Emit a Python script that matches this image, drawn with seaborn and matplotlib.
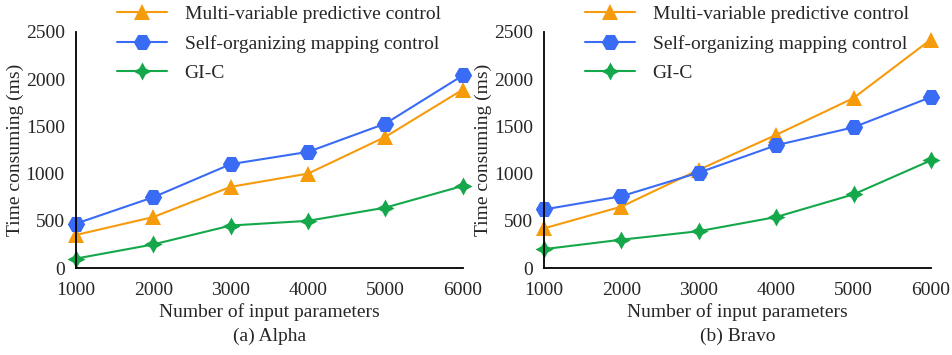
import numpy as np
import pandas as pd
import matplotlib
matplotlib.use("Agg")
import matplotlib.pyplot as plt
import seaborn as sns

# Number of input parameters
params = [1000, 2000, 3000, 4000, 5000, 6000]

# Time consuming (ms), dataset Alpha
alpha_mpc = [350, 540, 860, 1000, 1390, 1890]
alpha_som = [470, 750, 1100, 1230, 1530, 2040]
alpha_gic = [100, 250, 450, 500, 640, 870]

# Time consuming (ms), dataset Bravo
bravo_mpc = [420, 650, 1040, 1410, 1800, 2420]
bravo_som = [620, 760, 1010, 1300, 1490, 1810]
bravo_gic = [200, 300, 390, 540, 780, 1140]

methods = ["Multi-variable predictive control",
           "Self-organizing mapping control",
           "GI-C"]
panels = ["(a) Alpha", "(b) Bravo"]
y_ticks = [0, 500, 1000, 1500, 2000, 2500]

colors = {methods[0]: "#F59B0C", methods[1]: "#3A6BF5", methods[2]: "#14A84B"}
markers = {methods[0]: "^", methods[1]: "H", methods[2]: (4, 1, 0)}
sizes = {methods[0]: 12, methods[1]: 12.5, methods[2]: 13}


def long_frame(series):
    rows = []
    for name, vals in zip(methods, series):
        for x, v in zip(params, vals):
            rows.append({"Number of input parameters": x, "Time": v, "Method": name})
    return pd.DataFrame(rows)


data = [long_frame([alpha_mpc, alpha_som, alpha_gic]),
        long_frame([bravo_mpc, bravo_som, bravo_gic])]

sns.set_style("white")
plt.rcParams["font.family"] = ["Liberation Serif", "DejaVu Serif"]
plt.rcParams["mathtext.fontset"] = "stix"

fig = plt.figure(figsize=(9.53, 3.55), dpi=100)
axes = [fig.add_axes([0.0797, 0.245, 0.406, 0.665]),
        fig.add_axes([0.5708, 0.245, 0.406, 0.665])]

for ax, df, title in zip(axes, data, panels):
    for name in methods:
        sub = df[df["Method"] == name]
        sns.lineplot(data=sub, x="Number of input parameters", y="Time", ax=ax,
                     color=colors[name], marker=markers[name],
                     markersize=sizes[name], markeredgewidth=0,
                     linewidth=1.5, label=name, clip_on=False)
    ax.set_xlim(1000, 6000)
    ax.set_ylim(0, 2500)
    ax.set_xticks(params)
    ax.set_yticks(y_ticks)
    ax.tick_params(axis="x", direction="in", length=4, width=1.2,
                   labelsize=14, pad=10, color="black")
    ax.tick_params(axis="y", length=0, labelsize=14, pad=8)
    for s in ["top", "right"]:
        ax.spines[s].set_visible(False)
    for s in ["left", "bottom"]:
        ax.spines[s].set_color("black")
        ax.spines[s].set_linewidth(1.3)
    ax.set_ylabel("Time consuming (ms)", fontsize=14, labelpad=1)
    ax.set_xlabel("Number of input parameters\n" + title, fontsize=14,
                  labelpad=3, linespacing=1.5)
    ax.legend(loc="upper left", bbox_to_anchor=(0.08, 1.155), frameon=False,
              fontsize=14, handlelength=2.6, handletextpad=0.9,
              labelspacing=0.62, borderpad=0)

fig.savefig("out.png", dpi=100)
